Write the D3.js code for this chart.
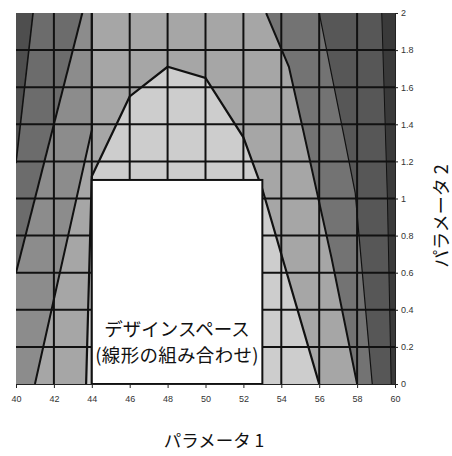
<!DOCTYPE html>
<html><head><meta charset="utf-8">
<script src="https://cdn.jsdelivr.net/npm/d3@7"></script>
<style>body{margin:0;background:#fff}</style>
</head><body>
<svg id="c" width="452" height="456"></svg>
<script>
// ---- data ----
const xTicks = [40,42,44,46,48,50,52,54,56,58,60];
const yTicks = [0,0.2,0.4,0.6,0.8,1,1.2,1.4,1.6,1.8,2];
const xGrid = [42,44,46,48,50,52,54,56,58];
const yGrid = [0.2,0.4,0.6,0.8,1,1.2,1.4,1.6,1.8];
const designX = [44,53];
const designY = [0,1.1];
const designLabel = ["デザインスペース","(線形の組み合わせ)"];
const xTitle = "パラメータ 1";
const yTitle = "パラメータ 2";
// contour boundaries (data coords)
const contour0 = [[43.7,0],[44,1.12],[46,1.55],[48,1.71],[50,1.65],[52,1.33],[53,1.05],[56,0]];
const contour1Left = [[41,0],[44,1.37],[44,2]];
const contour2Left = [[40,0.6],[43.5,2]];
const contour3Left = [[40,1.19],[40.9,2]];
const contour1Right = [[53.2,2],[54.4,1.71],[55.15,1.37],[56.65,0.68],[58,0]];
const contour2Right = [[56,2],[57.3,1.34],[57.9,1.03],[58.8,0]];
const contour3Right = [[59.3,2],[59.6,1.0],[59.8,0]];

// ---- layout ----
const svg = d3.select("#c");
const x = d3.scaleLinear().domain([40,60]).range([16,395]);
const y = d3.scaleLinear().domain([0,2]).range([384,13]);
const [x0,x1] = x.domain(), [y0,y1] = y.domain();
const line = d3.line().x(d=>x(d[0])).y(d=>y(d[1]));

svg.append("defs").append("clipPath").attr("id","pc")
  .append("rect").attr("x",x(x0)).attr("y",y(y1)).attr("width",x(x1)-x(x0)).attr("height",y(y0)-y(y1));
const g = svg.append("g").attr("clip-path","url(#pc)");

// bands
g.append("rect").attr("x",x(x0)).attr("y",y(y1)).attr("width",x(x1)-x(x0)).attr("height",y(y0)-y(y1)).attr("fill","#a6a6a6");
const leftPoly = c => c.concat([[x0,y1],[x0,y0]]);
const rightPoly = c => c.concat([[x1,y0],[x1,y1]]);
const polys = [
  [leftPoly(contour1Left), "#8c8c8c"],
  [leftPoly(contour2Left), "#6c6c6c"],
  [leftPoly(contour3Left), "#4e4e4e"],
  [rightPoly(contour1Right), "#737373"],
  [rightPoly(contour2Right), "#575757"],
  [rightPoly(contour3Right), "#3a3a3a"],
  [contour0, "#cdcdcd"]
];
polys.forEach(([p,f]) => g.append("path").attr("d", line(p)+"Z").attr("fill",f));

// grid
g.selectAll(".gx").data(xGrid).join("line")
  .attr("x1",d=>x(d)).attr("x2",d=>x(d)).attr("y1",y(y0)).attr("y2",y(y1))
  .attr("stroke","#111").attr("stroke-width",2);
g.selectAll(".gy").data(yGrid).join("line")
  .attr("y1",d=>y(d)).attr("y2",d=>y(d)).attr("x1",x(x0)).attr("x2",x(x1))
  .attr("stroke","#111").attr("stroke-width",2);

// contour lines
[[contour0,2.2],[contour1Left,2],[contour1Right,2],[contour2Left,2],[contour2Right,1.2],[contour3Left,1.6],[contour3Right,1]]
  .forEach(([c,w]) => g.append("path").attr("d",line(c)).attr("fill","none").attr("stroke","#111").attr("stroke-width",w));

// design space rectangle
svg.append("rect").attr("x",x(designX[0])).attr("y",y(designY[1]))
  .attr("width",x(designX[1])-x(designX[0])).attr("height",y(designY[0])-y(designY[1]))
  .attr("fill","#fff").attr("stroke","#111").attr("stroke-width",2);
const cx = (x(designX[0])+x(designX[1]))/2;
svg.append("text").attr("x",cx).attr("y",336).attr("text-anchor","middle")
  .attr("font-family","'Noto Sans CJK JP'").attr("font-size",18.5).attr("fill","#111").text(designLabel[0]);
svg.append("text").attr("x",cx).attr("y",362).attr("text-anchor","middle")
  .attr("font-family","'Noto Sans CJK JP'").attr("font-size",18.5).attr("letter-spacing",0.3).attr("fill","#111").text(designLabel[1]);

// axes
const fmt = d3.format("~g");
const ax = svg.append("g").attr("transform",`translate(0,${y(y0)})`)
  .call(d3.axisBottom(x).tickValues(xTicks).tickFormat(fmt).tickSize(4).tickPadding(8));
const ay = svg.append("g").attr("transform",`translate(${x(x1)},0)`)
  .call(d3.axisRight(y).tickValues(yTicks).tickFormat(fmt).tickSize(3).tickPadding(3));
[ax,ay].forEach(a => {
  a.selectAll("text").attr("font-family","'Liberation Sans', Arial").attr("font-size",9).attr("fill","#333");
  a.selectAll("line,path").attr("stroke","#222");
});

// titles
svg.append("text").attr("x",214).attr("y",447).attr("text-anchor","middle")
  .attr("font-family","'Noto Sans CJK JP'").attr("font-size",17.5).attr("fill","#111").text(xTitle);
svg.append("text").attr("transform","translate(440,216) rotate(-90)").attr("text-anchor","middle")
  .attr("dominant-baseline","central")
  .attr("font-family","'Noto Sans CJK JP'").attr("font-size",18).attr("fill","#111").text(yTitle);
</script>
</body></html>
